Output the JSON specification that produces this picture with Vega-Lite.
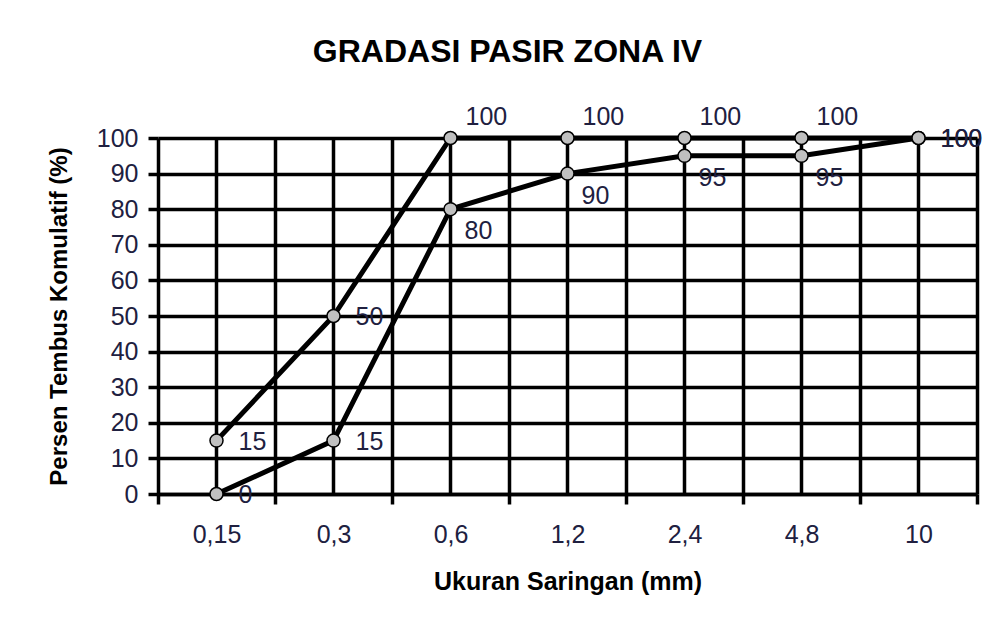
{
  "$schema": "https://vega.github.io/schema/vega-lite/v6.json",
  "autosize": "none",
  "width": 819,
  "height": 356,
  "padding": {"left": 158, "top": 138, "right": 12, "bottom": 134},
  "background": "white",
  "title": {
    "text": "GRADASI PASIR ZONA IV",
    "font": "Liberation Sans",
    "fontSize": 32,
    "fontWeight": "bold",
    "color": "black",
    "anchor": "middle",
    "dx": -60,
    "offset": 36
  },
  "data": {
    "values": [
      {"ukuran": "0,15", "seri": "atas", "persen": 15},
      {"ukuran": "0,3", "seri": "atas", "persen": 50},
      {"ukuran": "0,6", "seri": "atas", "persen": 100},
      {"ukuran": "1,2", "seri": "atas", "persen": 100},
      {"ukuran": "2,4", "seri": "atas", "persen": 100},
      {"ukuran": "4,8", "seri": "atas", "persen": 100},
      {"ukuran": "10", "seri": "atas", "persen": 100},
      {"ukuran": "0,15", "seri": "bawah", "persen": 0},
      {"ukuran": "0,3", "seri": "bawah", "persen": 15},
      {"ukuran": "0,6", "seri": "bawah", "persen": 80},
      {"ukuran": "1,2", "seri": "bawah", "persen": 90},
      {"ukuran": "2,4", "seri": "bawah", "persen": 95},
      {"ukuran": "4,8", "seri": "bawah", "persen": 95},
      {"ukuran": "10", "seri": "bawah", "persen": 100}
    ]
  },
  "encoding": {
    "x": {
      "field": "ukuran",
      "type": "nominal",
      "sort": ["0,15", "0,3", "0,6", "1,2", "2,4", "4,8", "10"],
      "scale": {"paddingInner": 0, "paddingOuter": 0},
      "axis": {
        "title": "Ukuran Saringan (mm)",
        "labelAngle": 0,
        "tickBand": "extent",
        "grid": true,
        "gridColor": "black",
        "gridWidth": 3.5,
        "gridOpacity": 1,
        "domainColor": "black",
        "domainWidth": 3.5,
        "tickColor": "black",
        "tickWidth": 3.5,
        "tickSize": 10,
        "labelFont": "Liberation Sans",
        "labelFontSize": 25,
        "labelColor": "#202040",
        "labelPadding": 18,
        "titleFont": "Liberation Sans",
        "titleFontSize": 25,
        "titleFontWeight": "bold",
        "titleColor": "black",
        "titlePadding": 22
      }
    },
    "y": {
      "field": "persen",
      "type": "quantitative",
      "scale": {"domain": [0, 100], "nice": false},
      "axis": {
        "title": "Persen Tembus Komulatif (%)",
        "values": [0, 10, 20, 30, 40, 50, 60, 70, 80, 90, 100],
        "grid": true,
        "gridColor": "black",
        "gridWidth": 3.5,
        "gridOpacity": 1,
        "domain": false,
        "tickColor": "black",
        "tickWidth": 3.5,
        "tickSize": 10,
        "labelFont": "Liberation Sans",
        "labelFontSize": 25,
        "labelColor": "#202040",
        "labelPadding": 10,
        "titleFont": "Liberation Sans",
        "titleFontSize": 24,
        "titleFontWeight": "bold",
        "titleColor": "black",
        "titlePadding": 25
      }
    }
  },
  "layer": [
    {
      "transform": [{"filter": "datum.seri == 'atas'"}],
      "mark": {"type": "rule", "color": "black", "strokeWidth": 3.5},
      "encoding": {"y": null}
    },
    {
      "mark": {"type": "line", "color": "black", "strokeWidth": 5},
      "encoding": {"detail": {"field": "seri"}}
    },
    {
      "mark": {"type": "point", "shape": "circle", "filled": true, "fill": "#c0c0c0", "stroke": "black", "strokeWidth": 1.5, "size": 170, "opacity": 1}
    },
    {
      "transform": [{"filter": "(datum.seri == 'atas' && datum.persen < 100) || (datum.seri == 'bawah' && datum.persen <= 15) || datum.ukuran == '10'"}],
      "mark": {"type": "text", "align": "left", "baseline": "middle", "dx": 22, "dy": 1, "font": "Liberation Sans", "fontSize": 25, "color": "#202040"},
      "encoding": {"text": {"field": "persen", "type": "quantitative"}}
    },
    {
      "transform": [{"filter": "datum.seri == 'atas' && datum.persen == 100 && datum.ukuran != '10'"}],
      "mark": {"type": "text", "align": "left", "baseline": "middle", "dx": 15, "dy": -21, "font": "Liberation Sans", "fontSize": 25, "color": "#202040"},
      "encoding": {"text": {"field": "persen", "type": "quantitative"}}
    },
    {
      "transform": [{"filter": "datum.seri == 'bawah' && datum.persen >= 80 && datum.persen < 100"}],
      "mark": {"type": "text", "align": "left", "baseline": "middle", "dx": 14, "dy": 22, "font": "Liberation Sans", "fontSize": 25, "color": "#202040"},
      "encoding": {"text": {"field": "persen", "type": "quantitative"}}
    }
  ],
  "config": {
    "view": {"stroke": null}
  }
}
